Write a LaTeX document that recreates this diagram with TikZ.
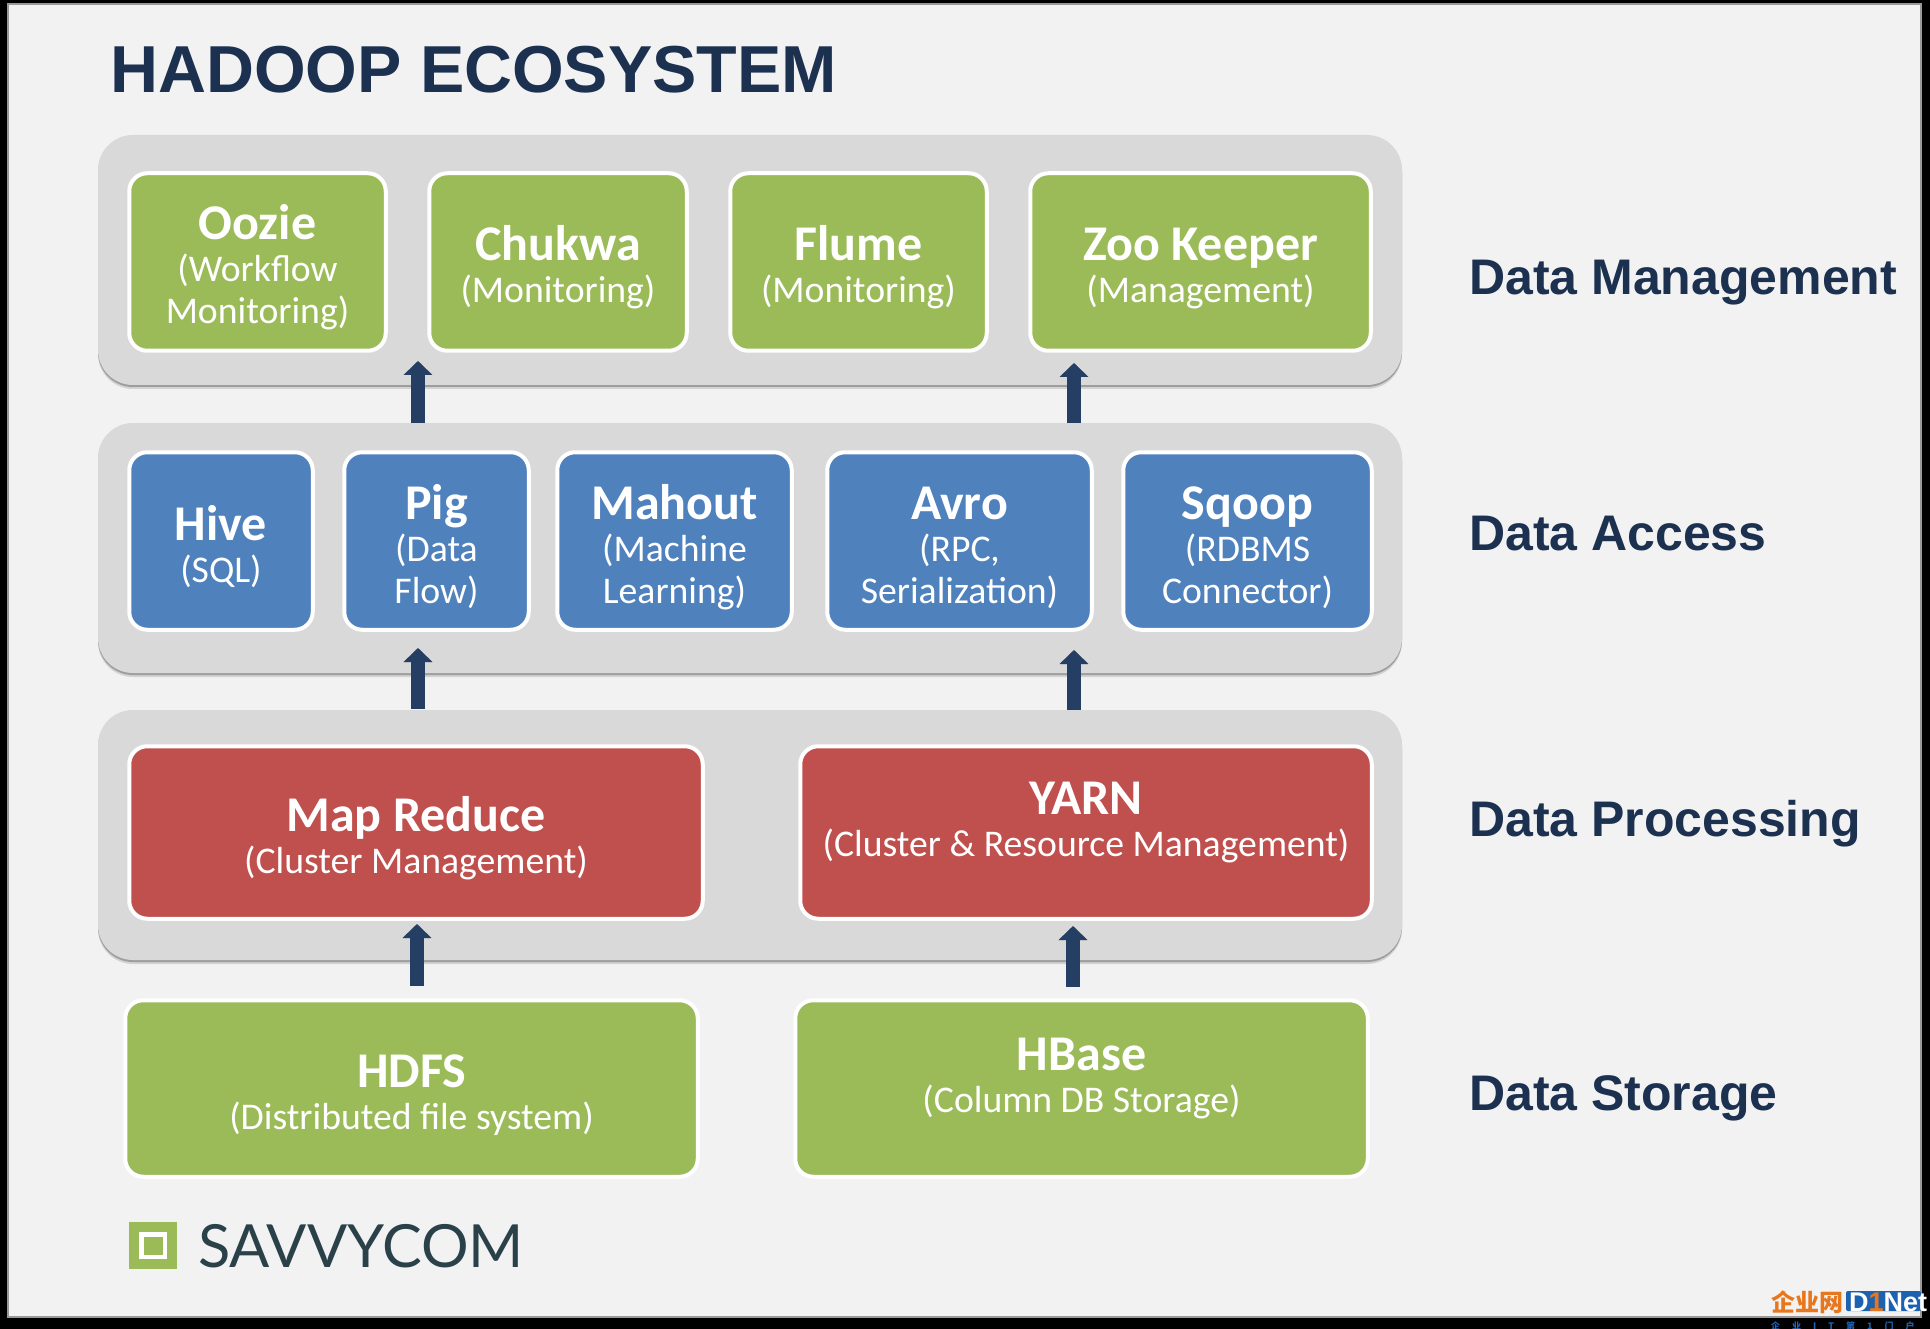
\documentclass[tikz,border=0pt]{standalone}
\usepackage{fontspec}
\setmainfont{Carlito}
\newfontfamily\arialf{Liberation Sans}
\newfontfamily\logof{Lato}
\newfontfamily\cjkf{Noto Sans CJK SC}
\usetikzlibrary{arrows.meta,shadows}
\definecolor{pagebg}{HTML}{F2F2F2}
\definecolor{panelgray}{HTML}{D9D9D9}
\definecolor{gr}{HTML}{9BBB59}
\definecolor{bl}{HTML}{4F81BD}
\definecolor{rd}{HTML}{C0504D}
\definecolor{navy}{HTML}{1C3050}
\definecolor{arrowc}{HTML}{243F63}
\definecolor{logotxt}{HTML}{2A4149}
\definecolor{wmorange}{HTML}{E8761C}
\definecolor{wmblue}{HTML}{1D62B0}
\newcommand{\ttl}[1]{{\fontsize{50}{50}\selectfont\bfseries\rule[-14pt]{0pt}{68pt}#1}}
\newcommand{\sbt}[1]{{\fontsize{37.7}{40}\selectfont\rule[-14pt]{0pt}{42pt}#1}}
\newcommand{\sbl}[1]{{\fontsize{37.7}{40}\selectfont\rule[-14pt]{0pt}{42pt}#1}}
\newcommand{\liftline}{\rule[-14pt]{0pt}{34pt}}
\newcommand{\mkbox}[7]{% name,x1,y1,x2,y2,style,text
  \pgfmathsetmacro{\cxv}{(#2+#4)/2}
  \pgfmathsetmacro{\cyv}{(#3+#5)/2}
  \pgfmathsetmacro{\wv}{#4-#2-2.5}
  \pgfmathsetmacro{\hv}{#5-#3-2.5}
  \node[#6,minimum width=\wv pt,minimum height=\hv pt] (#1) at (\cxv,\cyv) {#7};
}
\tikzset{
  panel/.style={fill=panelgray,rounded corners=35pt,
    drop shadow={shadow xshift=0pt,shadow yshift=-4pt,fill=black,opacity=.13},
    drop shadow={shadow xshift=0pt,shadow yshift=-2pt,fill=black,opacity=.25}},
  ebox/.style={draw=white,line width=4pt,rounded corners=18pt,text=white,align=center,inner sep=0pt,
    execute at begin node={\baselineskip=0pt\lineskip=0pt\lineskiplimit=0pt}},
  gbox/.style={ebox,fill=gr},
  bbox/.style={ebox,fill=bl},
  rbox/.style={ebox,fill=rd},
  lay/.style={anchor=base west,text=navy,font=\arialf\bfseries\fontsize{50}{52}\selectfont,inner sep=0pt},
  uparrow/.style={draw=arrowc,line width=13.5pt,
    -{Triangle[width=28pt,length=14pt,fill=arrowc]}},
  uparrowsh/.style={draw=black,opacity=.25,line width=13.5pt,
    -{Triangle[width=28pt,length=14pt,fill=black]}},
}
\begin{document}
\begin{tikzpicture}[x=1pt,y=-1pt]
\useasboundingbox (0,0) rectangle (1930,1329);
\fill[black] (0,0) rectangle (1930,1329);
\fill[pagebg,draw=black!40,line width=1.5pt] (8,4) rectangle (1921,1317);

\node[anchor=base west,inner sep=0pt,text=navy,font=\arialf\bfseries\fontsize{66.4}{70}\selectfont] (title) at (110,93) {HADOOP ECOSYSTEM};

\path[panel] (98,135) rectangle (1402,385);
\path[panel] (98,423) rectangle (1402,673);
\path[panel] (98,710) rectangle (1402,960);

\mkbox{oozie}{128}{172}{387}{352}{gbox}{\ttl{Oozie}\\\sbt{(Workflow}\\\sbl{Monitoring)}}
\mkbox{chukwa}{428}{172}{688}{352}{gbox}{\ttl{Chukwa}\\\sbt{(Monitoring)}}
\mkbox{flume}{729}{172}{988}{352}{gbox}{\ttl{Flume}\\\sbt{(Monitoring)}}
\mkbox{zoo}{1029}{172}{1372}{352}{gbox}{\ttl{Zoo Keeper}\\\sbt{(Management)}}

\mkbox{hive}{128}{451}{314}{631}{bbox}{\ttl{Hive}\\\sbt{(SQL)}}
\mkbox{pig}{343}{451}{530}{631}{bbox}{\ttl{Pig}\\\sbt{(Data}\\\sbl{Flow)}}
\mkbox{mahout}{556}{451}{793}{631}{bbox}{\ttl{Mahout}\\\sbt{(Machine}\\\sbl{Learning)}}
\mkbox{avro}{826}{451}{1093}{631}{bbox}{\ttl{Avro}\\\sbt{(RPC,}\\\sbl{Serialization)}}
\mkbox{sqoop}{1122}{451}{1373}{631}{bbox}{\ttl{Sqoop}\\\sbt{(RDBMS}\\\sbl{Connector)}}

\mkbox{mapred}{128}{745}{704}{920}{rbox}{\ttl{Map Reduce}\\\sbt{(Cluster Management)}}
\mkbox{yarn}{799}{745}{1373}{920}{rbox}{\ttl{YARN}\\\sbt{(Cluster \& Resource Management)}\\\liftline}

\mkbox{hdfs}{124}{999}{699}{1178}{gbox}{\ttl{HDFS}\\\sbt{(Distributed file system)}}
\mkbox{hbase}{794}{999}{1369}{1178}{gbox}{\ttl{HBase}\\\sbt{(Column DB Storage)}\\\liftline}

\coordinate (a1s) at (418,422.5); \coordinate (a1e) at (418,361);
\coordinate (a2s) at (1074,422.5); \coordinate (a2e) at (1074,363);
\coordinate (a3s) at (418,708.5); \coordinate (a3e) at (418,648);
\coordinate (a4s) at (1074,709.5); \coordinate (a4e) at (1074,650);
\coordinate (a5s) at (417,985.5); \coordinate (a5e) at (417,924);
\coordinate (a6s) at (1073,986.5); \coordinate (a6e) at (1073,926);
\foreach \a in {a1,a2,a3,a4,a5,a6}{
  \begin{scope}[yshift=-2.5pt]\draw[uparrowsh] (\a s) -- (\a e);\end{scope}
  \draw[uparrow] (\a s) -- (\a e);}

\node[lay] (lmgmt) at (1469,295) {Data Management};
\node[lay] (laccess) at (1469,550) {Data Access};
\node[lay] (lproc) at (1469,836) {Data Processing};
\node[lay] (lstor) at (1469,1110) {Data Storage};

% logo
\fill[gr] (129,1222) rectangle (177,1269);
\draw[white,line width=4.5pt] (141.3,1234.3) rectangle (165,1257);
\node[anchor=base west,inner sep=0pt,text=logotxt,font=\logof\fontsize{59.5}{60}\selectfont] (logo) at (198,1267) {SAVVYCOM};

% watermark
\node[anchor=center,inner sep=0pt,text=wmorange,font=\cjkf\bfseries\fontsize{24}{24}\selectfont] (wm1) at (1807.5,1302) {企业网};
\fill[wmblue,rounded corners=2pt] (1846,1291) rectangle (1921,1311);
\node[anchor=base west,inner sep=0pt,text=white,font=\arialf\bfseries\fontsize{27}{27}\selectfont] (wm2) at (1849,1311) {D\textcolor{wmorange}{1}Net};
\node[anchor=base west,inner sep=0pt,text=wmblue,font=\cjkf\bfseries\fontsize{9}{9}\selectfont] (wm3) at (1771,1329) {企\hspace{12pt}业\hspace{12pt}I\hspace{12pt}T\hspace{12pt}第\hspace{12pt}1\hspace{12pt}门\hspace{12pt}户};
\end{tikzpicture}
\end{document}
